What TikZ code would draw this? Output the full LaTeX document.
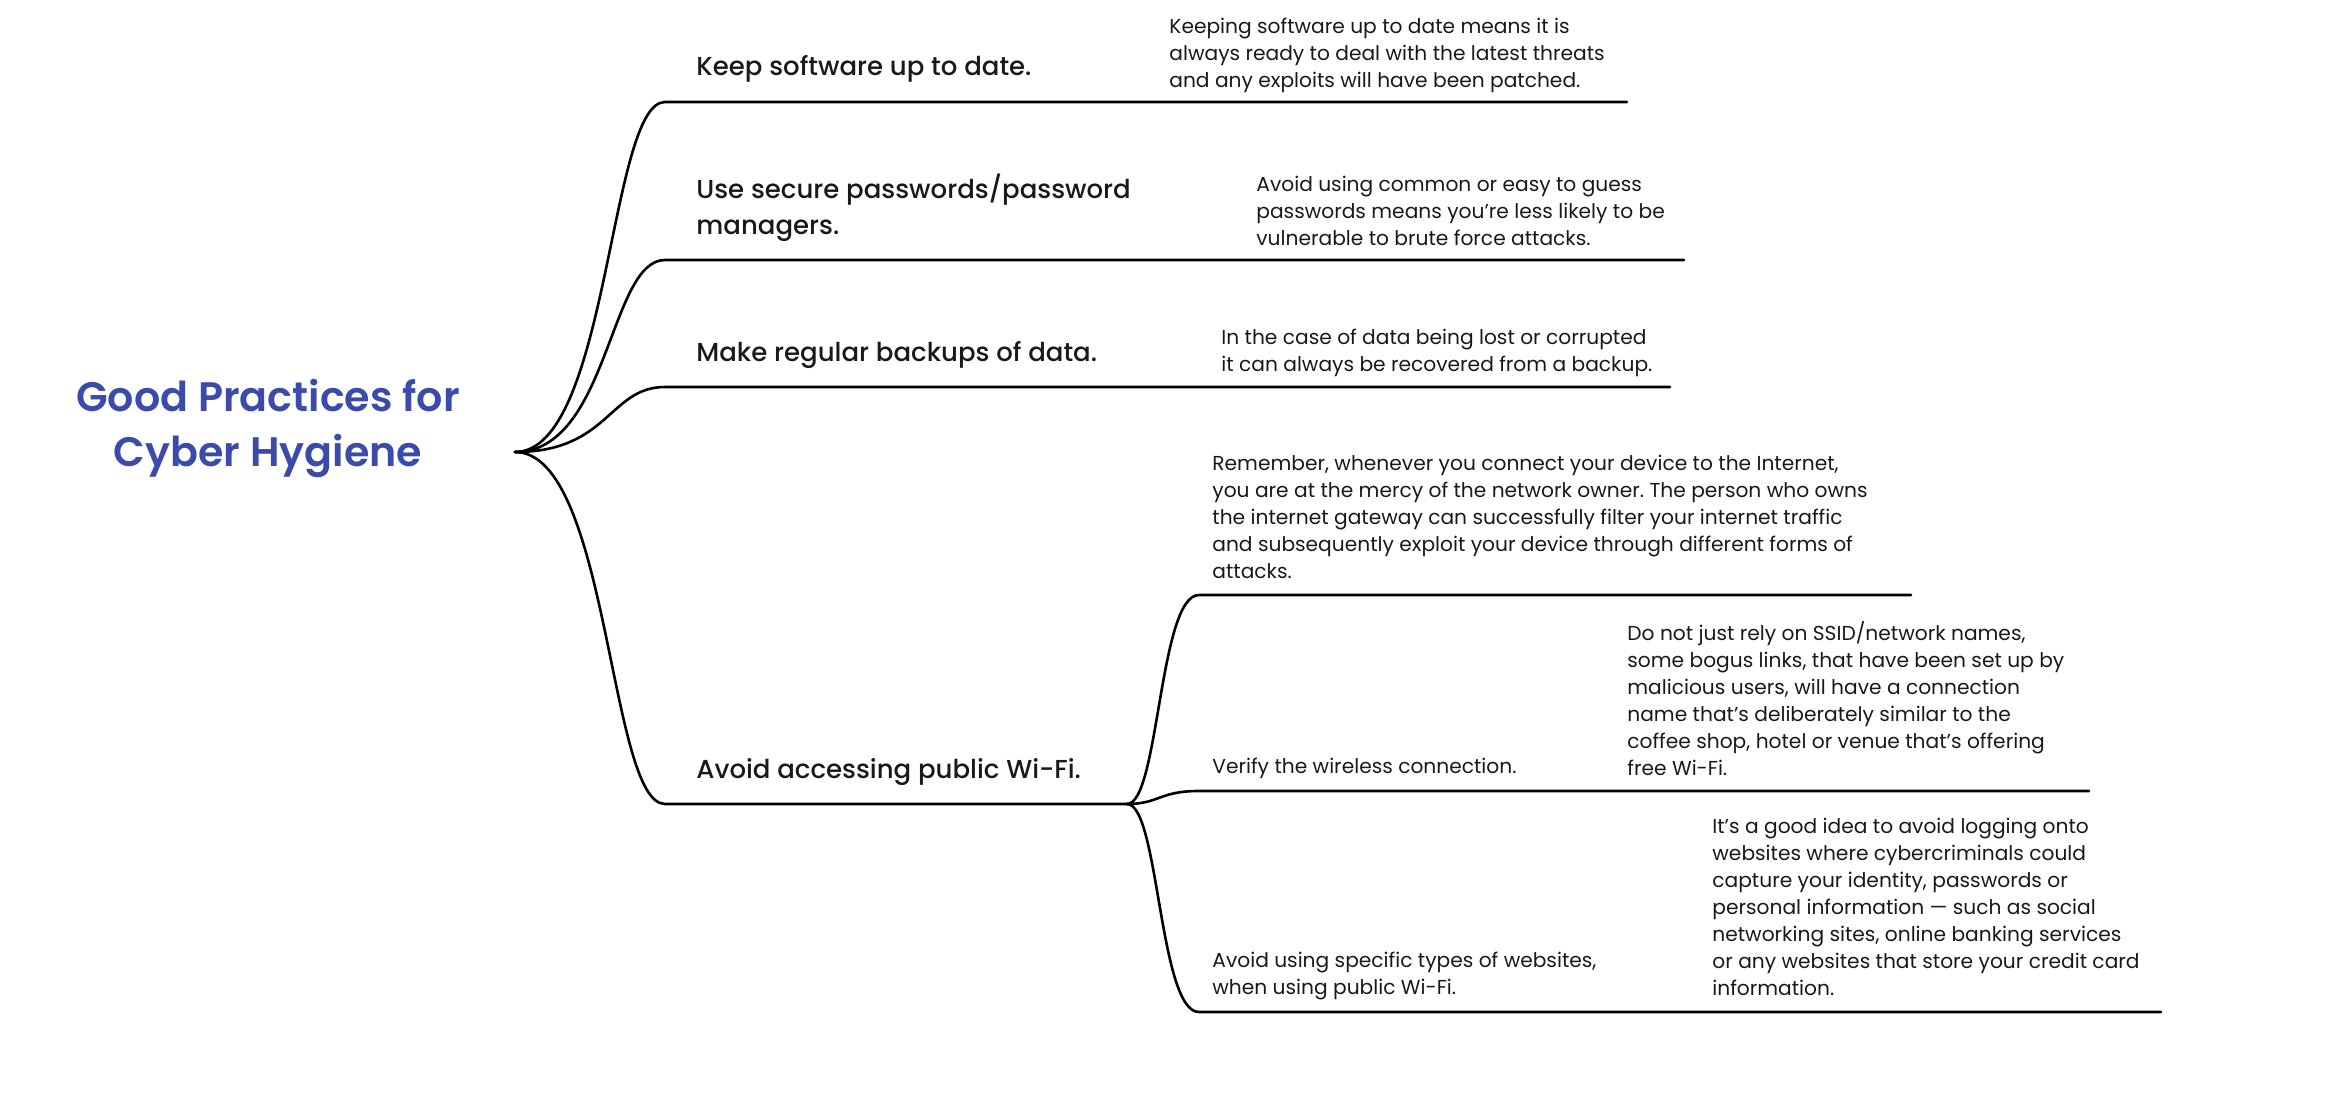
\documentclass[tikz,border=0pt]{standalone}
\usepackage{fontspec}
\setmainfont{Poppins}
\IfFontExistsTF{Poppins Medium}{\newfontfamily\popmed{Poppins Medium}}{\newfontfamily\popmed{Poppins}}
\IfFontExistsTF{Poppins SemiBold}{\newfontfamily\popsemi{Poppins SemiBold}}{\newfontfamily\popsemi{Poppins}[UprightFont=*-Bold]}
\definecolor{titleblue}{RGB}{59,75,170}
\definecolor{ink}{RGB}{25,25,25}
\frenchspacing
\begin{document}
\begin{tikzpicture}[x=0.5pt,y=-0.5pt,
  title/.style={align=center,inner sep=0,text=titleblue,font=\popsemi\fontsize{20.6}{27.5}\selectfont},
  mainlbl/.style={anchor=west,align=left,inner sep=0,text=ink,font=\popmed\fontsize{13}{18}\selectfont},
  desc/.style={anchor=west,align=left,inner sep=0,text=ink,font=\frenchspacing\fontsize{10.1}{13.5}\selectfont},
  branch/.style={line width=1.3pt,draw=black,line cap=round}]
\useasboundingbox (0,0) rectangle (2326,1114);
% title
\node[title] (root-t) at (268,428) {Good Practices for\\Cyber Hygiene};
\coordinate (root) at (515,452);
% main branches
\coordinate (b1s) at (665,102);  \coordinate (b1e) at (1627,102);
\coordinate (b2s) at (665,260);  \coordinate (b2e) at (1684,260);
\coordinate (b3s) at (665,387);  \coordinate (b3e) at (1670,387);
\coordinate (b4s) at (665,804);  \coordinate (b4e) at (1127,804);
\coordinate (s1s) at (1199,595); \coordinate (s1e) at (1911,595);
\coordinate (s2s) at (1199,791); \coordinate (s2e) at (2089,791);
\coordinate (s3s) at (1199,1012); \coordinate (s3e) at (2161,1012);
\foreach \b in {b1,b2,b3,b4}{
  \draw[branch] (root) .. controls ([xshift=47pt]root) and ([xshift=-28pt]\b s) .. (\b s) -- (\b e);
}
\foreach \s in {s1,s2,s3}{
  \draw[branch] (b4e) .. controls ([xshift=16pt]b4e) and ([xshift=-20pt]\s s) .. (\s s) -- (\s e);
}
% labels
\node[mainlbl] (m1) at (696,69) {Keep software up to date.};
\node[mainlbl] (m2) at (696,208) {Use secure passwords/password\\managers.};
\node[mainlbl] (m3) at (696,355) {Make regular backups of data.};
\node[mainlbl] (m4) at (696,772) {Avoid accessing public Wi-Fi.};
\node[desc] (d1) at (1169,55) {Keeping software up to date means it is\\always ready to deal with the latest threats\\and any exploits will have been patched.};
\node[desc] (d2) at (1256,211) {Avoid using common or easy to guess\\passwords means you’re less likely to be\\vulnerable to brute force attacks.};
\node[desc] (d3) at (1221,353) {In the case of data being lost or corrupted\\it can always be recovered from a backup.};
\node[desc] (d4) at (1212,517) {Remember, whenever you connect your device to the Internet,\\you are at the mercy of the network owner. The person who owns\\the internet gateway can successfully filter your internet traffic\\and subsequently exploit your device through different forms of\\attacks.};
\node[desc] (v1) at (1212,768) {Verify the wireless connection.};
\node[desc] (d5) at (1627,699) {Do not just rely on SSID/network names,\\some bogus links, that have been set up by\\malicious users, will have a connection\\name that’s deliberately similar to the\\coffee shop, hotel or venue that’s offering\\free Wi-Fi.};
\node[desc] (v2) at (1212,976) {Avoid using specific types of websites,\\when using public Wi-Fi.};
\node[desc] (d6) at (1712,907) {It’s a good idea to avoid logging onto\\websites where cybercriminals could\\capture your identity, passwords or\\personal information — such as social\\networking sites, online banking services\\or any websites that store your credit card\\information.};
\end{tikzpicture}
\end{document}
